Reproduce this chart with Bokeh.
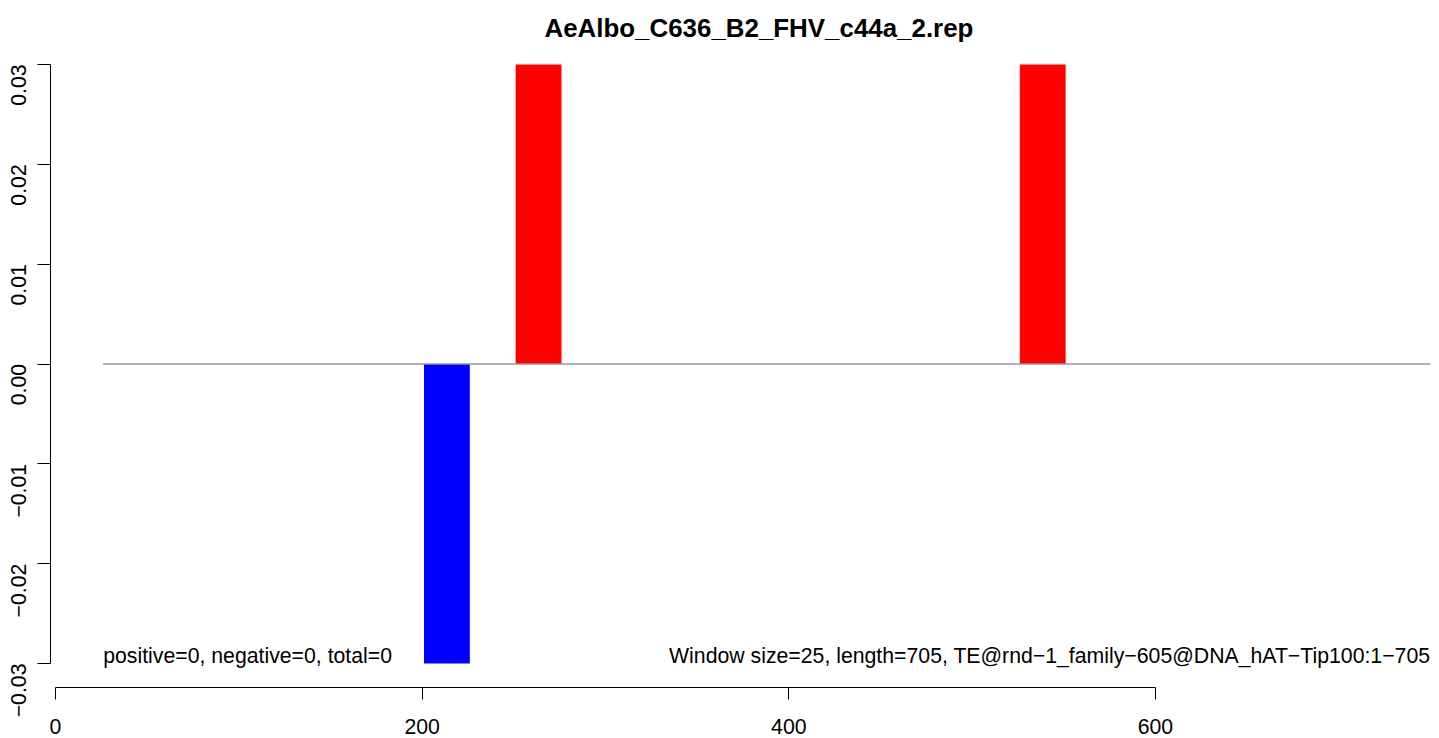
import math
from bokeh.plotting import figure
from bokeh.models import Range1d, FixedTicker, CustomJSTickFormatter, Label, ColumnDataSource
from bokeh.embed import file_html
from bokeh.resources import INLINE

# ---- data ----
title_text = "AeAlbo_C636_B2_FHV_c44a_2.rep"
window_size = 25
window_start = [201, 251, 526]
window_value = [-0.03, 0.03, 0.03]
track_start = 26
track_end = 750
x_ticks = [0, 200, 400, 600]
y_ticks = [-0.03, -0.02, -0.01, 0.0, 0.01, 0.02, 0.03]
stats_text = "positive=0, negative=0, total=0"
info_text = "Window size=25, length=705, TE@rnd\u22121_family\u2212605@DNA_hAT\u2212Tip100:1\u2212705"

FONT = "Liberation Sans"
FS = "21.25px"

W, H = 1438, 737
FL, FT, FB = 50, 40, 50   # frame borders (left, top, bottom)
p = figure(width=W, height=H, output_backend="svg", toolbar_location=None,
           x_range=Range1d(-2.73, 754.4), y_range=Range1d(-0.0324, 0.0324),
           min_border_left=FL, min_border_right=0, min_border_top=FT, min_border_bottom=FB,
           x_axis_location="below", y_axis_location="left")
p.outline_line_color = None
p.grid.visible = False
p.background_fill_color = "white"
p.border_fill_color = "white"

# title
p.title.text = title_text
p.title.align = "left"
p.title.offset = 494
try:
    p.title.standoff = -3
except Exception:
    p.title.standoff = 0
p.title.text_font = FONT
p.title.text_font_style = "bold"
p.title.text_font_size = "25.9px"
p.title.text_color = "black"

# bars
src = ColumnDataSource(dict(
    left=window_start,
    right=[s + window_size for s in window_start],
    top=[max(v, 0) for v in window_value],
    bottom=[min(v, 0) for v in window_value],
    color=["#FF0000" if v > 0 else "#0000FF" for v in window_value],
))
p.quad(left="left", right="right", top="top", bottom="bottom", fill_color="color",
       line_color=None, source=src)

# zero line
p.line(x=[track_start, track_end], y=[0, 0], line_color="#999999", line_width=1.3)

# axes
xa = p.xaxis[0]
xa.ticker = FixedTicker(ticks=x_ticks, minor_ticks=[])
xa.bounds = (x_ticks[0], x_ticks[-1])
xa.major_tick_out = 12
xa.major_tick_in = 0
xa.minor_tick_out = 0
xa.minor_tick_in = 0
xa.major_label_standoff = 19
xa.major_label_text_font = FONT
xa.major_label_text_font_size = FS
xa.major_label_text_color = "black"
xa.axis_line_color = "black"
xa.major_tick_line_color = "black"

ya = p.yaxis[0]
ya.ticker = FixedTicker(ticks=y_ticks, minor_ticks=[])
ya.bounds = (y_ticks[0], y_ticks[-1])
ya.formatter = CustomJSTickFormatter(code="return tick.toFixed(2).replace('-', '\\u2212');")
ya.major_label_orientation = math.pi / 2
ya.major_tick_out = 13
ya.major_tick_in = 0
ya.minor_tick_out = 0
ya.minor_tick_in = 0
ya.major_label_standoff = 19
ya.major_label_text_font = FONT
ya.major_label_text_font_size = FS
ya.major_label_text_color = "black"
ya.axis_line_color = "black"
ya.major_tick_line_color = "black"

# texts
p.add_layout(Label(x=track_start, y=-0.03, text=stats_text, text_align="left",
                   text_baseline="alphabetic", y_offset=8, text_font=FONT,
                   text_font_size=FS, text_color="black"))
p.add_layout(Label(x=track_end, y=-0.03, text=info_text, text_align="right",
                   text_baseline="alphabetic", y_offset=8, text_font=FONT,
                   text_font_size=FS, text_color="black"))
frame_bottom = H - FB
p.add_layout(Label(x=11.5 - FL, y=frame_bottom - 20, x_units="screen", y_units="screen",
                   text="\u22120.04", text_align="left", text_baseline="middle",
                   angle=math.pi / 2, text_font=FONT, text_font_size=FS, text_color="black",
                   level="overlay"))

open("out.html", "w").write(file_html(p, INLINE))
